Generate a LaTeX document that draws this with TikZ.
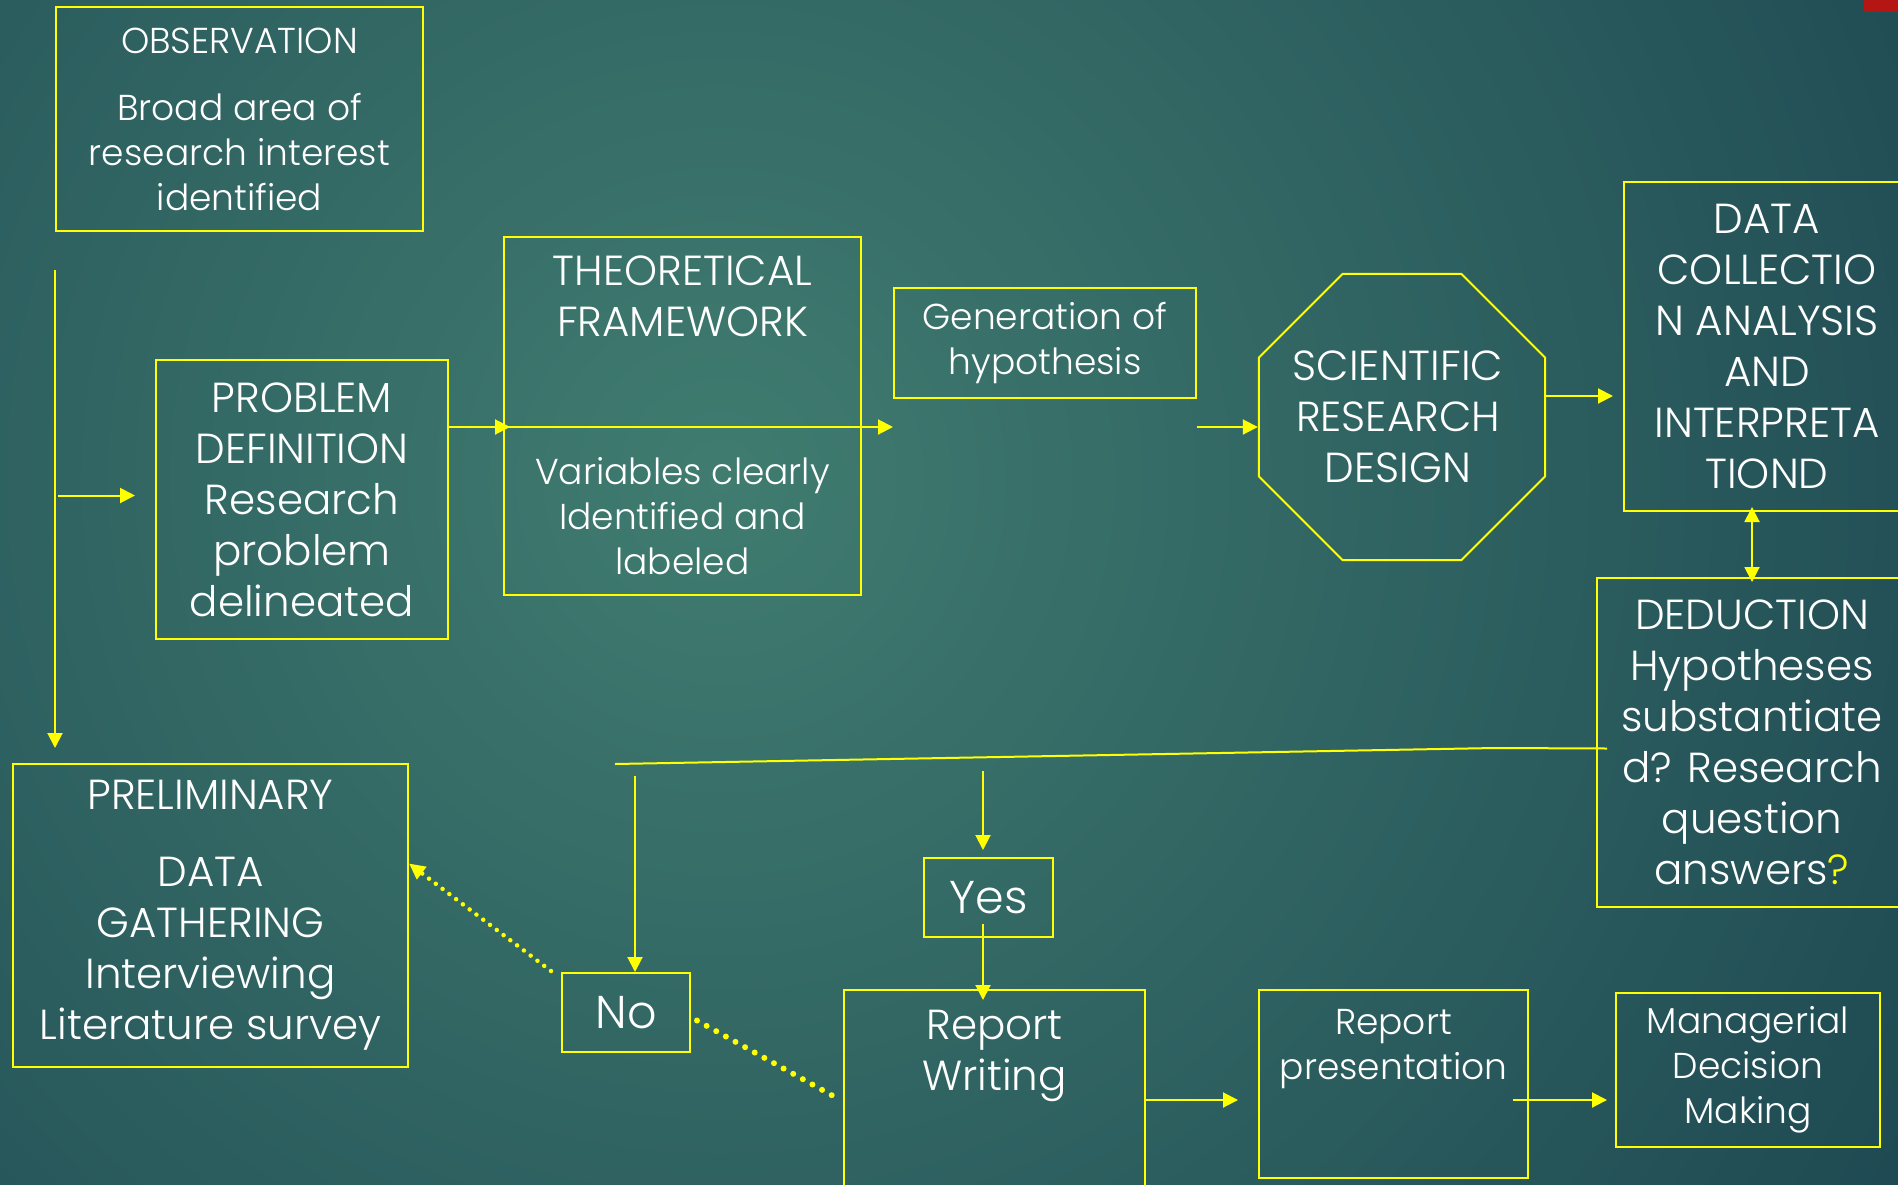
\documentclass[tikz,border=0pt]{standalone}
\usepackage{fontspec}
\setmainfont{Poppins}[UprightFont=* Light]
\usetikzlibrary{arrows.meta,calc,shapes.geometric}

\definecolor{bgglow}{RGB}{64,124,112}
\definecolor{bgdark}{RGB}{26,67,79}
\definecolor{flowyel}{RGB}{255,255,0}
\definecolor{cornerred}{RGB}{180,22,20}

\begin{document}
\begin{tikzpicture}[
  x=1pt, y=-1pt,
  box/.style    ={draw=flowyel,line width=2pt,rectangle,inner sep=0,anchor=north west},
  txt/.style    ={text=white,align=center,inner sep=0,font=\fontsize{36}{45}\selectfont},
  bigtxt/.style ={font=\fontsize{42}{51}\selectfont},
  hugetxt/.style={font=\fontsize{46}{55}\selectfont},
  ln/.style     ={draw=flowyel,line width=2pt,-{Triangle[length=15pt,width=15pt]}},
  bi/.style     ={draw=flowyel,line width=2pt,{Triangle[length=15pt,width=15pt]}-{Triangle[length=15pt,width=15pt]}},
  wire/.style   ={draw=flowyel,line width=2pt},
  dotln/.style  ={draw=flowyel,line width=6pt,line cap=round,dash pattern=on 0pt off 11pt},
  dotarr/.style ={draw=flowyel,line width=4.5pt,line cap=round,dash pattern=on 0pt off 8.5pt,
                  -{Triangle[length=16pt,width=15pt]}},
]

% ------------------------------------------------------------ slide background
\useasboundingbox (0,0) rectangle (1898,1184);
\clip (0,0) rectangle (1898,1184);
\shade[inner color=bgglow,outer color=bgdark] (720,480) circle (1550pt);
\fill[cornerred] (1864,0) rectangle (1898,12);

% ------------------------------------------------------------ upper row
\node[box,txt,minimum width=367pt,minimum height=224pt] (obs) at (55,6)
  {OBSERVATION\\[22pt]Broad area of\\research interest\\identified};
\node[box,txt,bigtxt,minimum width=292pt,minimum height=279pt] (prob) at (155,359)
  {PROBLEM\\DEFINITION\\Research\\problem\\delineated};
\node[box,minimum width=357pt,minimum height=358pt] (theo) at (503,236) {};
\node[txt,bigtxt,anchor=north] (theohead) at ($(theo.north)+(0,20)$) {THEORETICAL\\FRAMEWORK};
\node[txt,anchor=south] (theovars) at ($(theo.south)+(0,-21)$) {Variables clearly\\Identified and\\labeled};
\node[box,txt,minimum width=302pt,minimum height=110pt] (gen) at (893,287) {Generation of\\hypothesis};
\node[draw=flowyel,line width=2pt,regular polygon,regular polygon sides=8,minimum size=310pt,
      inner sep=0] (design) at (1402,417) {};
\node[txt,bigtxt] (designtext) at ($(design.center)+(-4,0)$) {SCIENTIFIC\\RESEARCH\\DESIGN};
\node[box,txt,bigtxt,minimum width=286pt,minimum height=329pt] (data) at (1623,181)
  {DATA\\COLLECTIO\\N ANALYSIS\\AND\\INTERPRETA\\TIOND};
\node[box,txt,bigtxt,minimum width=310pt,minimum height=329pt] (ded) at (1596,577)
  {DEDUCTION\\Hypotheses\\substantiate\\d? Research\\question\\answers{\color{flowyel}?}};

% ------------------------------------------------------------ lower row
\node[box,txt,bigtxt,minimum width=395pt,minimum height=303pt] (prelim) at (12,763)
  {PRELIMINARY\\[26pt]DATA\\GATHERING\\Interviewing\\Literature survey};
\node[box,txt,hugetxt,minimum width=128pt,minimum height=79pt] (no) at (561,972) {No};
\node[box,txt,hugetxt,minimum width=129pt,minimum height=79pt] (yes) at (923,857) {Yes};
\node[box,minimum width=301pt,minimum height=220pt] (rw) at (843,989) {};
\node[txt,bigtxt,anchor=north] (rwtext) at ($(rw.north)+(0,21)$) {Report\\Writing};
\node[box,minimum width=269pt,minimum height=188pt] (pres) at (1258,989) {};
\node[txt,anchor=north] (prestext) at ($(pres.north)+(0,20)$) {Report\\presentation};
\node[box,txt,minimum width=264pt,minimum height=154pt] (mdm) at (1615,992)
  {Managerial\\Decision\\Making};

% ------------------------------------------------------------ connectors
% left spine from the observation down to the preliminary data gathering
\coordinate (spine) at (55,270);
\draw[ln,shorten >=15pt] (spine) -- (spine |- prelim.north);
\draw[ln,shorten >=20pt] ($(spine |- prob.west)+(3,-4)$) -- ($(prob.west)+(0,-4)$);

% problem -> framework -> hypothesis -> design -> data collection
\coordinate (theosplit) at ($(theo.west)+(0,11)$);
\draw[ln,shorten >=-7pt] (prob.east |- theosplit) -- (theosplit);
\draw[ln] (theosplit) -- (gen.west |- theosplit);
\draw[ln] (gen.east |- theosplit) -- (design.west |- theosplit);
\coordinate (designout) at ($(design.east)+(0,-21)$);
\draw[ln,shorten >=10pt] (designout) -- (data.west |- designout);
\draw[bi,shorten <=-5pt,shorten >=-5pt] (ded.north |- data.south) -- (ded.north);

% the deduction splits into no / yes
\coordinate (dedtap) at ($(ded.west)+(11,6)$);
\coordinate (decbend) at (1495,748);
\coordinate (decend) at (615,764);
\draw[wire] (dedtap) -- (decbend) -- (decend);
\coordinate (notap) at (635,776);
\draw[ln] (notap) -- (notap |- no.north);
\coordinate (yestap) at (983,771);
\draw[ln,shorten >=7pt] (yestap) -- (yestap |- yes.north);
\draw[ln,shorten <=-14pt,shorten >=-11pt] (yestap |- yes.south) -- (yestap |- rw.north);

% report chain
\coordinate (rwout) at ($(rw.north east)+(0,111)$);
\draw[ln,shorten >=20pt] (rwout) -- (pres.west |- rwout);
\draw[ln,shorten <=-16pt,shorten >=8pt] (pres.east |- rwout) -- (mdm.west |- rwout);

% dotted loop back from "No"
\draw[dotarr] ($(no.north west)+(-10,-1)$) -- ($(prelim.east)+(0,-52)$);
\draw[dotln] ($(no.east)+(6,8)$) -- ($(rw.north west)+(-8,108)$);

\end{tikzpicture}
\end{document}
